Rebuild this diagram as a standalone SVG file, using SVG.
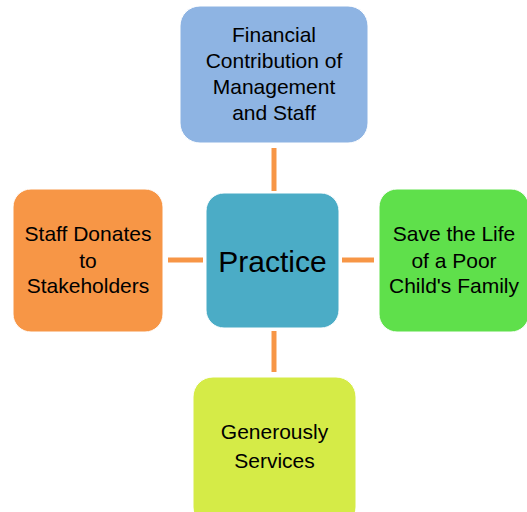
<svg xmlns="http://www.w3.org/2000/svg" width="527" height="512" viewBox="0 0 527 512">
<style>
text{font-family:"Liberation Sans",Arial,sans-serif;fill:#000;text-anchor:middle;font-size:21px}
.c{stroke:#F79646;stroke-width:5;fill:none}
.b{stroke:#fff;stroke-width:1}
</style>
<rect width="527" height="512" fill="#fff"/>
<g id="connectors">
<line class="c" x1="274" y1="148" x2="274" y2="191"/>
<line class="c" x1="274" y1="331" x2="274" y2="372"/>
<line class="c" x1="168" y1="260" x2="203" y2="260"/>
<line class="c" x1="342" y1="260" x2="374" y2="260"/>
</g>
<g id="top">
<rect class="b" x="180" y="6" width="188" height="137" rx="20" fill="#8EB4E3"/>
<text x="274" y="42">Financial</text>
<text x="274" y="68">Contribution of</text>
<text x="274" y="94">Management</text>
<text x="274" y="120">and Staff</text>
</g>
<g id="center">
<rect class="b" x="206" y="193" width="133" height="135" rx="18" fill="#4BACC6"/>
<text x="272.5" y="272" style="font-size:30px">Practice</text>
</g>
<g id="left">
<rect class="b" x="13" y="189" width="150" height="143" rx="18" fill="#F79646"/>
<text x="88" y="241">Staff Donates</text>
<text x="88" y="268">to</text>
<text x="88" y="293">Stakeholders</text>
</g>
<g id="right">
<rect class="b" x="379" y="189" width="150" height="143" rx="18" fill="#5FE04B"/>
<text x="454" y="241">Save the Life</text>
<text x="454" y="268">of a Poor</text>
<text x="454" y="293">Child's Family</text>
</g>
<g id="bottom">
<rect class="b" x="193" y="377" width="163" height="150" rx="20" fill="#D5EB47"/>
<text x="274.5" y="439">Generously</text>
<text x="274.5" y="468">Services</text>
</g>
</svg>
